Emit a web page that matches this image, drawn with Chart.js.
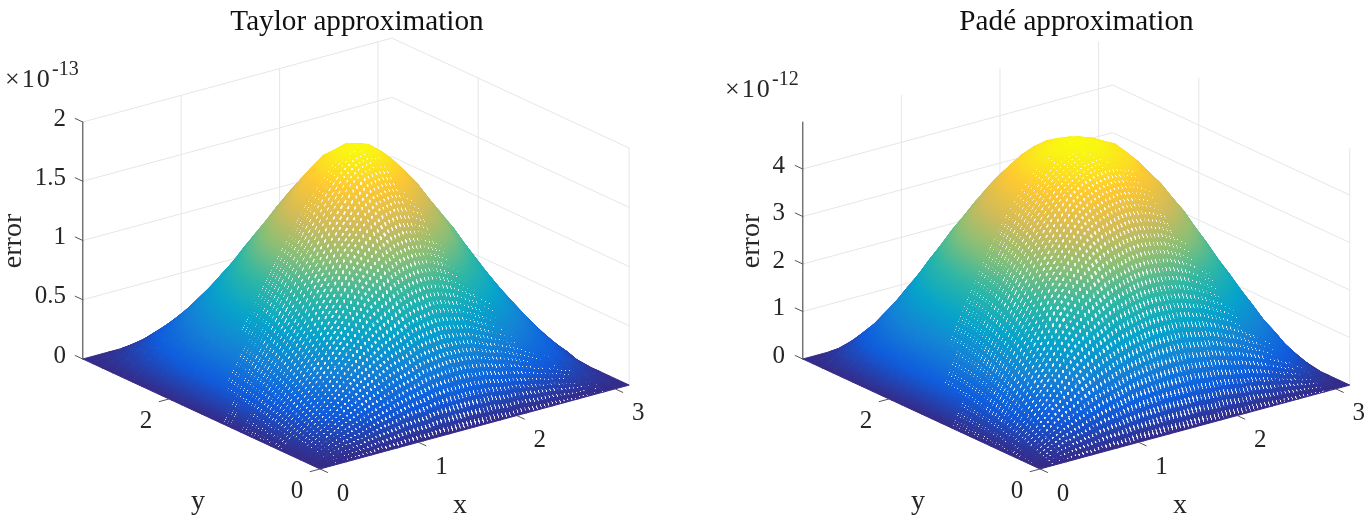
<!DOCTYPE html>
<html><head><meta charset="utf-8">
<style>html,body{margin:0;padding:0;background:#fff;width:1371px;height:522px;overflow:hidden}canvas{position:absolute;top:0}</style>
<script src="https://cdn.jsdelivr.net/npm/chart.js@4"></script>
</head><body>
<canvas id="c1" width="686" height="522" style="left:0"></canvas>
<canvas id="c2" width="685" height="522" style="left:686px"></canvas>
<script>
const gridX = [0,.131,.262,.393,.524,.654,.785,.916,1.047,1.178,1.309,1.440,1.571,1.702,1.833,1.963,2.094,2.225,2.356,2.487,2.618,2.749,2.880,3.011,3.142];
const gridY = [0,.131,.262,.393,.524,.654,.785,.916,1.047,1.178,1.309,1.440,1.571,1.702,1.833,1.963,2.094,2.225,2.356,2.487,2.618,2.749,2.880,3.011,3.142];
const xTicks = [0,1,2,3];
const yTicks = [0,2];
const taylorTicks = [0,0.5,1,1.5,2];
const padeTicks = [0,1,2,3,4];
// error x 1e-13, rows = x, columns = y
const taylorZ = [
[0,0,0,0,0,0,0,0,0,0,0,0,0,0,0,0,0,0,0,0,0,0,0,0,0],
[0,.03,.05,.07,.09,.12,.14,.16,.18,.19,.21,.22,.22,.22,.21,.19,.18,.16,.14,.12,.09,.07,.05,.03,0],
[0,.05,.09,.14,.18,.22,.26,.30,.34,.37,.40,.42,.42,.42,.40,.37,.34,.30,.26,.22,.18,.14,.09,.05,0],
[0,.07,.14,.20,.26,.32,.38,.44,.49,.53,.58,.60,.61,.60,.58,.53,.49,.44,.38,.32,.26,.20,.14,.07,0],
[0,.09,.18,.26,.34,.42,.50,.57,.64,.70,.76,.79,.81,.79,.76,.70,.64,.57,.50,.42,.34,.26,.18,.09,0],
[0,.12,.22,.32,.42,.52,.62,.71,.80,.87,.94,.98,1.00,.98,.94,.87,.80,.71,.62,.52,.42,.32,.22,.12,0],
[0,.14,.26,.38,.50,.62,.74,.84,.95,1.04,1.12,1.17,1.19,1.17,1.12,1.04,.95,.84,.74,.62,.50,.38,.26,.14,0],
[0,.16,.30,.44,.57,.71,.84,.97,1.09,1.19,1.28,1.34,1.36,1.34,1.28,1.19,1.09,.97,.84,.71,.57,.44,.30,.16,0],
[0,.18,.34,.49,.64,.80,.95,1.09,1.23,1.34,1.44,1.51,1.54,1.51,1.44,1.34,1.23,1.09,.95,.80,.64,.49,.34,.18,0],
[0,.19,.37,.53,.70,.87,1.04,1.19,1.34,1.45,1.57,1.65,1.67,1.65,1.57,1.45,1.34,1.19,1.04,.87,.70,.53,.37,.19,0],
[0,.21,.40,.58,.76,.94,1.12,1.28,1.44,1.57,1.70,1.78,1.80,1.78,1.70,1.57,1.44,1.28,1.12,.94,.76,.58,.40,.21,0],
[0,.22,.42,.60,.79,.98,1.17,1.34,1.51,1.65,1.78,1.86,1.89,1.86,1.78,1.65,1.51,1.34,1.17,.98,.79,.60,.42,.22,0],
[0,.22,.42,.61,.81,1.00,1.19,1.36,1.54,1.67,1.80,1.89,1.92,1.89,1.80,1.67,1.54,1.36,1.19,1.00,.81,.61,.42,.22,0],
[0,.22,.42,.60,.79,.98,1.17,1.34,1.51,1.65,1.78,1.86,1.89,1.86,1.78,1.65,1.51,1.34,1.17,.98,.79,.60,.42,.22,0],
[0,.21,.40,.58,.76,.94,1.12,1.28,1.44,1.57,1.70,1.78,1.80,1.78,1.70,1.57,1.44,1.28,1.12,.94,.76,.58,.40,.21,0],
[0,.19,.37,.53,.70,.87,1.04,1.19,1.34,1.45,1.57,1.65,1.67,1.65,1.57,1.45,1.34,1.19,1.04,.87,.70,.53,.37,.19,0],
[0,.18,.34,.49,.64,.80,.95,1.09,1.23,1.34,1.44,1.51,1.54,1.51,1.44,1.34,1.23,1.09,.95,.80,.64,.49,.34,.18,0],
[0,.16,.30,.44,.57,.71,.84,.97,1.09,1.19,1.28,1.34,1.36,1.34,1.28,1.19,1.09,.97,.84,.71,.57,.44,.30,.16,0],
[0,.14,.26,.38,.50,.62,.74,.84,.95,1.04,1.12,1.17,1.19,1.17,1.12,1.04,.95,.84,.74,.62,.50,.38,.26,.14,0],
[0,.12,.22,.32,.42,.52,.62,.71,.80,.87,.94,.98,1.00,.98,.94,.87,.80,.71,.62,.52,.42,.32,.22,.12,0],
[0,.09,.18,.26,.34,.42,.50,.57,.64,.70,.76,.79,.81,.79,.76,.70,.64,.57,.50,.42,.34,.26,.18,.09,0],
[0,.07,.14,.20,.26,.32,.38,.44,.49,.53,.58,.60,.61,.60,.58,.53,.49,.44,.38,.32,.26,.20,.14,.07,0],
[0,.05,.09,.14,.18,.22,.26,.30,.34,.37,.40,.42,.42,.42,.40,.37,.34,.30,.26,.22,.18,.14,.09,.05,0],
[0,.03,.05,.07,.09,.12,.14,.16,.18,.19,.21,.22,.22,.22,.21,.19,.18,.16,.14,.12,.09,.07,.05,.03,0],
[0,0,0,0,0,0,0,0,0,0,0,0,0,0,0,0,0,0,0,0,0,0,0,0,0]];
// error x 1e-12
const padeZ = [
[0,0,0,0,0,0,0,0,0,0,0,0,0,0,0,0,0,0,0,0,0,0,0,0,0],
[0,.08,.17,.25,.32,.39,.46,.51,.56,.60,.62,.64,.64,.64,.62,.60,.56,.51,.46,.39,.32,.25,.17,.08,0],
[0,.17,.33,.50,.64,.79,.91,1.02,1.11,1.19,1.24,1.27,1.29,1.27,1.24,1.19,1.11,1.02,.91,.79,.64,.50,.33,.17,0],
[0,.25,.50,.73,.95,1.16,1.35,1.52,1.65,1.76,1.84,1.89,1.91,1.89,1.84,1.76,1.65,1.52,1.35,1.16,.95,.73,.50,.25,0],
[0,.32,.64,.95,1.24,1.51,1.76,1.97,2.14,2.29,2.39,2.45,2.48,2.45,2.39,2.29,2.14,1.97,1.76,1.51,1.24,.95,.64,.32,0],
[0,.39,.79,1.16,1.51,1.84,2.14,2.40,2.61,2.79,2.91,2.99,3.02,2.99,2.91,2.79,2.61,2.40,2.14,1.84,1.51,1.16,.79,.39,0],
[0,.46,.91,1.35,1.76,2.14,2.50,2.79,3.04,3.25,3.39,3.48,3.51,3.48,3.39,3.25,3.04,2.79,2.50,2.14,1.76,1.35,.91,.46,0],
[0,.51,1.02,1.52,1.97,2.40,2.79,3.13,3.40,3.64,3.80,3.90,3.94,3.90,3.80,3.64,3.40,3.13,2.79,2.40,1.97,1.52,1.02,.51,0],
[0,.56,1.11,1.65,2.14,2.61,3.04,3.40,3.70,3.96,4.13,4.24,4.28,4.24,4.13,3.96,3.70,3.40,3.04,2.61,2.14,1.65,1.11,.56,0],
[0,.60,1.19,1.76,2.29,2.79,3.25,3.64,3.96,4.24,4.42,4.53,4.58,4.53,4.42,4.24,3.96,3.64,3.25,2.79,2.29,1.76,1.19,.60,0],
[0,.62,1.24,1.84,2.39,2.91,3.39,3.80,4.13,4.42,4.57,4.68,4.72,4.68,4.57,4.42,4.13,3.80,3.39,2.91,2.39,1.84,1.24,.62,0],
[0,.64,1.27,1.89,2.45,2.99,3.48,3.90,4.24,4.53,4.68,4.78,4.82,4.78,4.68,4.53,4.24,3.90,3.48,2.99,2.45,1.89,1.27,.64,0],
[0,.64,1.29,1.91,2.48,3.02,3.51,3.94,4.28,4.58,4.72,4.82,4.85,4.82,4.72,4.58,4.28,3.94,3.51,3.02,2.48,1.91,1.29,.64,0],
[0,.64,1.27,1.89,2.45,2.99,3.48,3.90,4.24,4.53,4.68,4.78,4.82,4.78,4.68,4.53,4.24,3.90,3.48,2.99,2.45,1.89,1.27,.64,0],
[0,.62,1.24,1.84,2.39,2.91,3.39,3.80,4.13,4.42,4.57,4.68,4.72,4.68,4.57,4.42,4.13,3.80,3.39,2.91,2.39,1.84,1.24,.62,0],
[0,.60,1.19,1.76,2.29,2.79,3.25,3.64,3.96,4.24,4.42,4.53,4.58,4.53,4.42,4.24,3.96,3.64,3.25,2.79,2.29,1.76,1.19,.60,0],
[0,.56,1.11,1.65,2.14,2.61,3.04,3.40,3.70,3.96,4.13,4.24,4.28,4.24,4.13,3.96,3.70,3.40,3.04,2.61,2.14,1.65,1.11,.56,0],
[0,.51,1.02,1.52,1.97,2.40,2.79,3.13,3.40,3.64,3.80,3.90,3.94,3.90,3.80,3.64,3.40,3.13,2.79,2.40,1.97,1.52,1.02,.51,0],
[0,.46,.91,1.35,1.76,2.14,2.50,2.79,3.04,3.25,3.39,3.48,3.51,3.48,3.39,3.25,3.04,2.79,2.50,2.14,1.76,1.35,.91,.46,0],
[0,.39,.79,1.16,1.51,1.84,2.14,2.40,2.61,2.79,2.91,2.99,3.02,2.99,2.91,2.79,2.61,2.40,2.14,1.84,1.51,1.16,.79,.39,0],
[0,.32,.64,.95,1.24,1.51,1.76,1.97,2.14,2.29,2.39,2.45,2.48,2.45,2.39,2.29,2.14,1.97,1.76,1.51,1.24,.95,.64,.32,0],
[0,.25,.50,.73,.95,1.16,1.35,1.52,1.65,1.76,1.84,1.89,1.91,1.89,1.84,1.76,1.65,1.52,1.35,1.16,.95,.73,.50,.25,0],
[0,.17,.33,.50,.64,.79,.91,1.02,1.11,1.19,1.24,1.27,1.29,1.27,1.24,1.19,1.11,1.02,.91,.79,.64,.50,.33,.17,0],
[0,.08,.17,.25,.32,.39,.46,.51,.56,.60,.62,.64,.64,.64,.62,.60,.56,.51,.46,.39,.32,.25,.17,.08,0],
[0,0,0,0,0,0,0,0,0,0,0,0,0,0,0,0,0,0,0,0,0,0,0,0,0]];

const PARULA = ['#352a87','#0f5cdd','#1481d6','#06a4ca','#2eb7a4','#87bf77','#d1bb59','#fec832','#f9fb0e'];
const rgbs = PARULA.map(h=>[1,3,5].map(k=>parseInt(h.substr(k,2),16)));
function parula(t){t=Math.max(0,Math.min(1,t))*(rgbs.length-1);const i=Math.min(rgbs.length-2,Math.floor(t)),f=t-i;
  const c=rgbs[i].map((v,k)=>Math.round(v+(rgbs[i+1][k]-v)*f));return `rgb(${c[0]},${c[1]},${c[2]})`;}

const SERIF='"Liberation Serif","Times New Roman",serif';
const TXT='#262626', GRID='#e6e6e6', AXIS='#555555';
const T=37,B=478,Z0=359;

const tiles={};
function tile(a,b){const k=a+'_'+b;if(tiles[k])return tiles[k];const c=document.createElement('canvas');c.width=c.height=24;
  const g=c.getContext('2d');g.fillStyle='rgba(255,255,255,.88)';g.beginPath();g.ellipse(12,12,1.1*a,1.1*b,0,0,7);g.fill();return tiles[k]=c;}

function panel(cfg){
  const {id,zGrid,zTicks,zTop,L,R,fx,xdx,xdy,ydx,ydy,zs,padRight}=cfg;
  const cv=document.getElementById(id),ctx=cv.getContext('2d');
  const zMax=cfg.cMax;
  const XM=gridX[gridX.length-1],YM=gridY[gridY.length-1];
  const prj=(X,Y,z)=>({x:fx+xdx*X-ydx*Y, y:z+(xdy*X+ydy*Y-ydy*YM)/zs});
  const py=v=>Z0-v*zs;
  const ds=[];
  const line=(pts,color,w)=>ds.push({data:pts,showLine:true,pointRadius:0,borderColor:color,borderWidth:w,fill:false,clip:false});
  line([prj(0,YM,0),prj(0,YM,zTop)],AXIS,1.2);
  zTicks.forEach(z=>line([prj(0,YM,z),prj(0,YM+.1,z)],AXIS,1));
  xTicks.forEach(x=>line([prj(x,0,0),prj(x,-.1,0)],AXIS,1));
  yTicks.forEach(y=>line([prj(0,y,0),prj(-.1,y,0)],AXIS,1));
  const CELLS=80/(gridX.length-1), LWU=3.2, LWV=2.6;
  for(let i=0;i<gridX.length-1;i++)for(let j=0;j<gridY.length-1;j++){
    const zs4=[zGrid[i][j],zGrid[i+1][j],zGrid[i+1][j+1],zGrid[i][j+1]];
    const P=[prj(gridX[i],gridY[j],zs4[0]),prj(gridX[i+1],gridY[j],zs4[1]),prj(gridX[i+1],gridY[j+1],zs4[2]),prj(gridX[i],gridY[j+1],zs4[3])];
    const pts=[...P,P[0]];
    const S=P.map(p=>({x:p.x,y:py(p.y)}));
    const e1={x:(S[1].x-S[0].x+S[2].x-S[3].x)/2,y:(S[1].y-S[0].y+S[2].y-S[3].y)/2};
    const e2={x:(S[3].x-S[0].x+S[2].x-S[1].x)/2,y:(S[3].y-S[0].y+S[2].y-S[1].y)/2};
    const d1=(zs4[1]-zs4[0]+zs4[2]-zs4[3])/2,d2=(zs4[3]-zs4[0]+zs4[2]-zs4[1])/2;
    const det=e1.x*e2.y-e1.y*e2.x;
    const zm=zs4.reduce((a,b)=>a+b)/4,zlo=Math.min(...zs4),zhi=Math.max(...zs4);
    let fillC=parula(zm/zMax);
    const C={x:S.reduce((a,p)=>a+p.x,0)/4,y:S.reduce((a,p)=>a+p.y,0)/4};
    if(Math.abs(det)>1&&zhi>zlo){
      const gx=(d1*e2.y-d2*e1.y)/det,gy=(d2*e1.x-d1*e2.x)/det,g2=gx*gx+gy*gy;
      if(g2>1e-12){
        const gr=ctx.createLinearGradient(C.x+gx*(zlo-zm)/g2,C.y+gy*(zlo-zm)/g2,C.x+gx*(zhi-zm)/g2,C.y+gy*(zhi-zm)/g2);
        for(let s=0;s<=4;s++)gr.addColorStop(s/4,parula((zlo+(zhi-zlo)*s/4)/zMax));
        fillC=gr;
      }
    }
    const u={x:e1.x/CELLS,y:e1.y/CELLS},v={x:e2.x/CELLS,y:e2.y/CELLS};
    const area=Math.abs(u.x*v.y-u.y*v.x),lu=Math.hypot(u.x,u.y),lv=Math.hypot(v.x,v.y);
    const a=Math.round(10*(1-LWV/(area/lv))),b=Math.round(10*(1-LWU/(area/lu)));
    if(det<0&&a>0&&b>0){
      const pat=ctx.createPattern(tile(Math.min(a,10),Math.min(b,10)),'repeat');
      const fi=(i*CELLS)%1,fj=(j*CELLS)%1;
      pat.setTransform(new DOMMatrix([u.x/24,u.y/24,v.x/24,v.y/24,S[0].x-fi*u.x-fj*v.x,S[0].y-fi*u.y-fj*v.y]));
      ds.push({data:pts,showLine:true,pointRadius:0,borderWidth:0,borderColor:'rgba(0,0,0,0)',backgroundColor:pat,fill:'shape',clip:false});
    }
    ds.push({data:pts,showLine:true,pointRadius:0,borderWidth:1,borderColor:fillC,backgroundColor:fillC,fill:'shape',clip:false});
  }
  zTicks.filter(z=>z>0).forEach(z=>line([prj(0,YM,z),prj(XM,YM,z),prj(XM,0,z)],GRID,1));
  xTicks.filter(x=>x>0).forEach(x=>line([prj(x,YM,0),prj(x,YM,zTop)],GRID,1));
  yTicks.forEach(y=>line([prj(XM,y,0),prj(XM,y,zTop)],GRID,1));

  const labels={id:'labels',afterDraw(ch){
    const c=ch.ctx,sx=ch.scales.x,sy=ch.scales.y;
    c.save();c.fillStyle=TXT;c.textAlign='center';c.textBaseline='middle';c.font='25px '+SERIF;
    const at=(p,dx,dy)=>[sx.getPixelForValue(p.x)+dx,sy.getPixelForValue(p.y)+dy];
    xTicks.forEach(x=>{const q=at(prj(x,0,0),23,25);c.fillText(String(x),q[0],q[1]);});
    yTicks.forEach(y=>{const q=at(prj(0,y,0),-23,22);c.fillText(String(y),q[0],q[1]);});
    const o=at(prj(0,0,0),0,0);
    c.font='28px '+SERIF;
    c.fillText('y',o[0]-122,o[1]+33);
    c.fillText('x',o[0]+140,o[1]+37);
    c.save();c.translate(cfg.errX,241);c.rotate(-Math.PI/2);c.fillText('error',0,0);c.restore();
    c.textAlign='left';c.textBaseline='alphabetic';
    c.font='26px '+SERIF;c.letterSpacing='2px';c.fillText('\u00d710',cfg.expX,cfg.expY);c.letterSpacing='0px';
    c.font='20px '+SERIF;c.fillText(cfg.exp,cfg.expX+47,cfg.expY-12);
    c.restore();
  }};
  return new Chart(cv,{type:'scatter',data:{datasets:ds},plugins:[labels],options:{
    responsive:false,animation:false,events:[],
    elements:{line:{tension:0,borderCapStyle:'round',borderJoinStyle:'round'}},
    layout:{padding:{left:0,top:0,right:padRight,bottom:522-B}},
    plugins:{legend:{display:false},tooltip:{enabled:false},
      title:{display:true,fullSize:false,text:cfg.title,color:'#111',font:{family:SERIF,size:29.2,weight:'normal',lineHeight:'30px'},padding:{top:7,bottom:0}}},
    scales:{
      x:{type:'linear',display:false,min:L,max:R},
      y:{type:'linear',position:'left',min:(Z0-B)/zs,max:(Z0-T)/zs,
        grid:{display:false,drawTicks:false},border:{display:false},
        afterFit(s){s.width=L;},
        afterBuildTicks(s){s.ticks=zTicks.map(v=>({value:v}));},
        ticks:{color:TXT,padding:17,labelOffset:-3,autoSkip:false,font:{family:SERIF,size:25},callback:v=>String(v)}}
    }}});
}
panel({id:'c1',title:'Taylor approximation',zGrid:taylorZ,cMax:1.92,zTicks:taylorTicks,zTop:2,L:83,R:631,padRight:55,
  fx:320,xdx:98.4,xdy:26.7,ydx:75.5,ydy:35,zs:118.5,errX:14,expX:5,expY:87,exp:'-13'});
panel({id:'c2',title:'Pad\u00e9 approximation',zGrid:padeZ,cMax:4.85,zTicks:padeTicks,zTop:4.99,L:116,R:665,padRight:20,
  fx:354,xdx:98.6,xdy:26.7,ydx:75.5,ydy:35,zs:47.5,errX:66,expX:39,expY:97,exp:'-12'});
</script>
</body></html>
